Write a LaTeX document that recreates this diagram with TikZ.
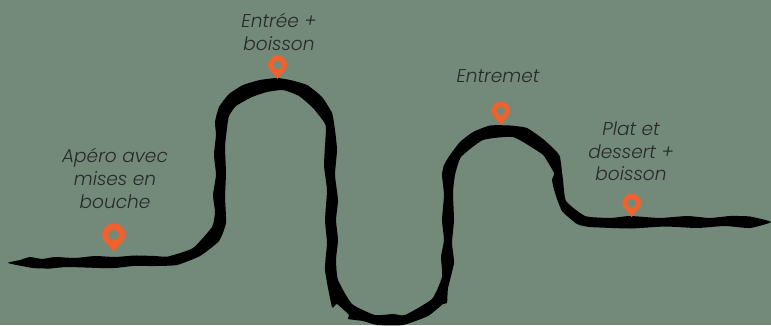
\documentclass[tikz,border=0pt]{standalone}
\usepackage{fontspec}
\setmainfont{Poppins}[ItalicFont=Poppins Light Italic]
\usepackage{xcolor}
\definecolor{fond}{RGB}{115,137,122}
\definecolor{repere}{RGB}{240,98,45}
\definecolor{texte}{RGB}{38,42,40}
\tikzset{
  etape/.style={text=texte, font=\itshape\fontsize{13.9}{17}\selectfont, align=center},
  repere/.pic={
    \fill[repere, even odd rule] (0,-14) .. controls (-3,-9) and (-9.5,-4.5) .. (-9.5,0) arc (180:0:9.5) .. controls (9.5,-4.5) and (3,-9) .. (0,-14) -- cycle
      (0,0) circle (4.4);
  }
}

\begin{document}
\begin{tikzpicture}[x=0.75pt,y=0.75pt,yscale=-1,xscale=1]
\useasboundingbox (0,0) rectangle (771,325);
\fill[fond] (0,0) rectangle (771,325);

% Road
\fill[black] plot[smooth cycle, tension=0.3] coordinates {
  (8,263) (20,260) (30,257) (42,259) (55,257) (75,258) (95,256) (115,257) (135,255.5) (155,256) (168,256.5)
  (193,248) (212,227) (215,212) (213,195) (216,175) (214,155) (216,135) (215,122) (219,107) (229,94) (243,85)
  (260,80) (277,78) (290,80) (307,85) (322,97) (332,113) (335,130) (337,150) (335,175)
  (338,200) (336,220) (338,240) (336,260) (338,280) (352,304) (375,315) (393,314) (405,315)
  (432,299) (442,277) (441,257) (444,240) (442,220) (444,195) (442,175) (444,165) (450,155)
  (460,142) (473,132) (490,125.5) (510,125.5) (527,128) (543,139) (555,150) (560,157) (563,180)
  (566,201) (585,216) (610,218) (630,216) (660,218) (687,216) (710,218) (730,216) (750,216.5)
  (771,222)
  (750,228) (725,226) (697,228) (665,226.5) (630,228.5) (590,227) (577,224) (562,211) (555,193)
  (552,180) (554,173) (544,156) (536,150) (513,137) (483,140) (461,157) (455,175) (453,193)
  (454,220) (452,243) (454,263) (448,288) (447,303) (443,304) (428,316) (403,325) (377,325)
  (363,321) (348,319) (349,315) (337,304) (332,307) (325,270) (327,243) (325,220) (327,190)
  (324,165) (326,129) (324,122) (313,108) (299,96) (283,90) (267,92) (252,97) (236,106)
  (229,116) (227,128) (225,147) (226,173) (225,197) (226,223) (219,241) (200,256) (177,265)
  (155,266) (133,266) (115,268) (100,268) (67,267) (50,268.5) (33,268)
};

% Pins
\pic[scale=1.23] at (113.7,235) {repere};
\pic at (277.5,65) {repere};
\pic at (500.7,111) {repere};
\pic at (631.7,203.2) {repere};

% Text Node
\node[etape] (apero) at (115,178.5) {Apéro avec\\mises en\\bouche};
% Text Node
\node[etape] (entree) at (279,32) {Entrée +\\boisson};
% Text Node
\node[etape] (entremet) at (498,76) {Entremet};
% Text Node
\node[etape] (plat) at (631,151.5) {Plat et\\dessert +\\boisson};

\end{tikzpicture}
\end{document}
